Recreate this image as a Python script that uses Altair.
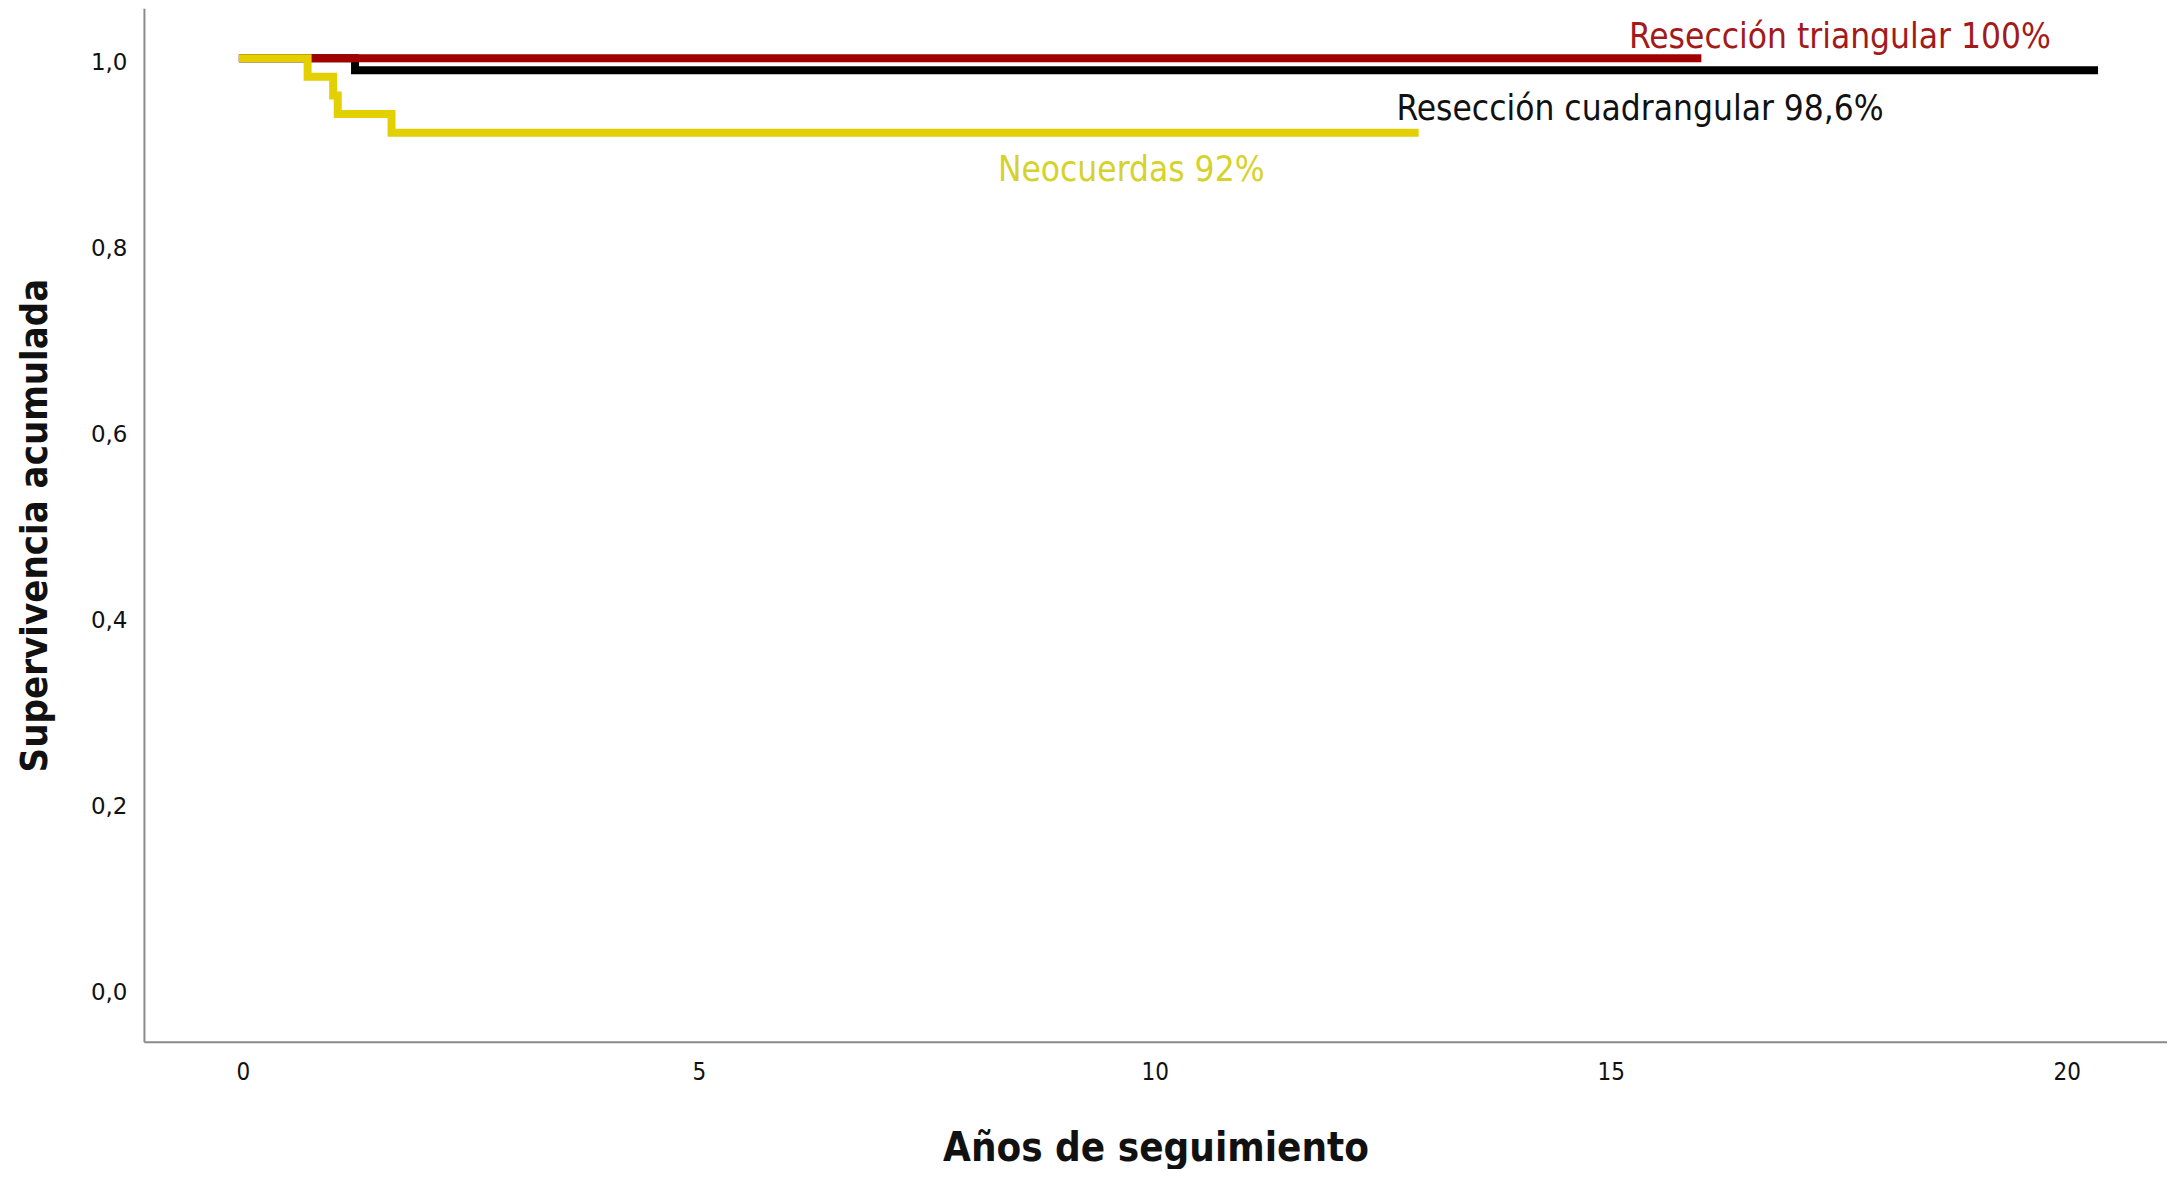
import altair as alt
import pandas as pd

# Kaplan-Meier step curves (years, cumulative survival)
tri_x = [0.0, 15.95]
tri_y = [1.0, 1.0]
cuad_x = [0.0, 1.23, 20.3]
cuad_y = [1.0, 0.987, 0.987]
neo_x = [0.0, 0.71, 0.99, 1.04, 1.63, 12.85]
neo_y = [1.0, 0.98, 0.96, 0.94, 0.92, 0.92]

series_names = ["Resección cuadrangular", "Resección triangular", "Neocuerdas"]
series_colors = ["#000000", "#A00000", "#E3D000"]

label_texts = ["Resección triangular 100%", "Resección cuadrangular 98,6%", "Neocuerdas 92%"]
label_colors = ["#A31A1A", "#111111", "#D6D22A"]
label_x = [15.2, 12.65, 8.28]
label_y = [1.027, 0.950, 0.884]

x_ticks = [0, 5, 10, 15, 20]
y_ticks = [0.0, 0.2, 0.4, 0.6, 0.8, 1.0]

rows = []
for name, xs, ys in [
    (series_names[0], cuad_x, cuad_y),
    (series_names[1], tri_x, tri_y),
    (series_names[2], neo_x, neo_y),
]:
    for x, y in zip(xs, ys):
        rows.append({"serie": name, "x": x, "y": y})
df = pd.DataFrame(rows)

lab = pd.DataFrame({"texto": label_texts, "x": label_x, "y": label_y, "color": label_colors})

title_font = "Liberation Sans Narrow, DejaVu Sans Condensed, sans-serif"
xdom = [-1.085, 21.1]
ydom = [-0.0525, 1.058]

xscale = alt.Scale(domain=xdom, nice=False, zero=False)
yscale = alt.Scale(domain=ydom, nice=False, zero=False)

lines = []
for name, col in zip(series_names, series_colors):
    lines.append(
        alt.Chart(df[df["serie"] == name])
        .mark_line(interpolate="step-after", strokeWidth=8, color=col, strokeCap="square",
                   clip=True, yOffset=-4)
        .encode(
            x=alt.X("x:Q", scale=xscale,
                    axis=alt.Axis(values=x_ticks, format="d", title="Años de seguimiento", grid=False,
                                  ticks=False, domainColor="#8a8a8a", domainWidth=2,
                                  labelFont="DejaVu Sans Condensed",
                                  labelFontSize=24, labelColor="#111111", labelPadding=19,
                                  titleFont=title_font, titleFontSize=40, titleFontWeight="bold",
                                  titleColor="#111111", titlePadding=44)),
            y=alt.Y("y:Q", scale=yscale,
                    axis=alt.Axis(values=y_ticks, title="Supervivencia acumulada", grid=False, ticks=False,
                                  domainColor="#8a8a8a", domainWidth=2, labelFont="DejaVu Sans",
                                  labelFontSize=23, labelColor="#111111", labelPadding=17,
                                  labelExpr="replace(format(datum.value, '.1f'), '.', ',')",
                                  titleFont=title_font, titleFontSize=38, titleFontWeight="bold",
                                  titleColor="#111111", titlePadding=36)),
        )
    )

texts = (
    alt.Chart(lab)
    .mark_text(align="left", baseline="middle", fontSize=35, font="DejaVu Sans Condensed")
    .encode(
        x=alt.X("x:Q", scale=xscale),
        y=alt.Y("y:Q", scale=yscale),
        text="texto:N",
        color=alt.Color("color:N", scale=None),
    )
)

chart = (
    alt.layer(*lines, texts)
    .properties(
        width=2024,
        height=1034,
        autosize=alt.AutoSizeParams(type="none"),
        padding={"left": 136, "top": 0, "right": 0, "bottom": 127},
        background="white",
    )
    .configure_view(stroke=None)
)

chart.save("out.html", embed_options={"renderer": "svg", "actions": False})
